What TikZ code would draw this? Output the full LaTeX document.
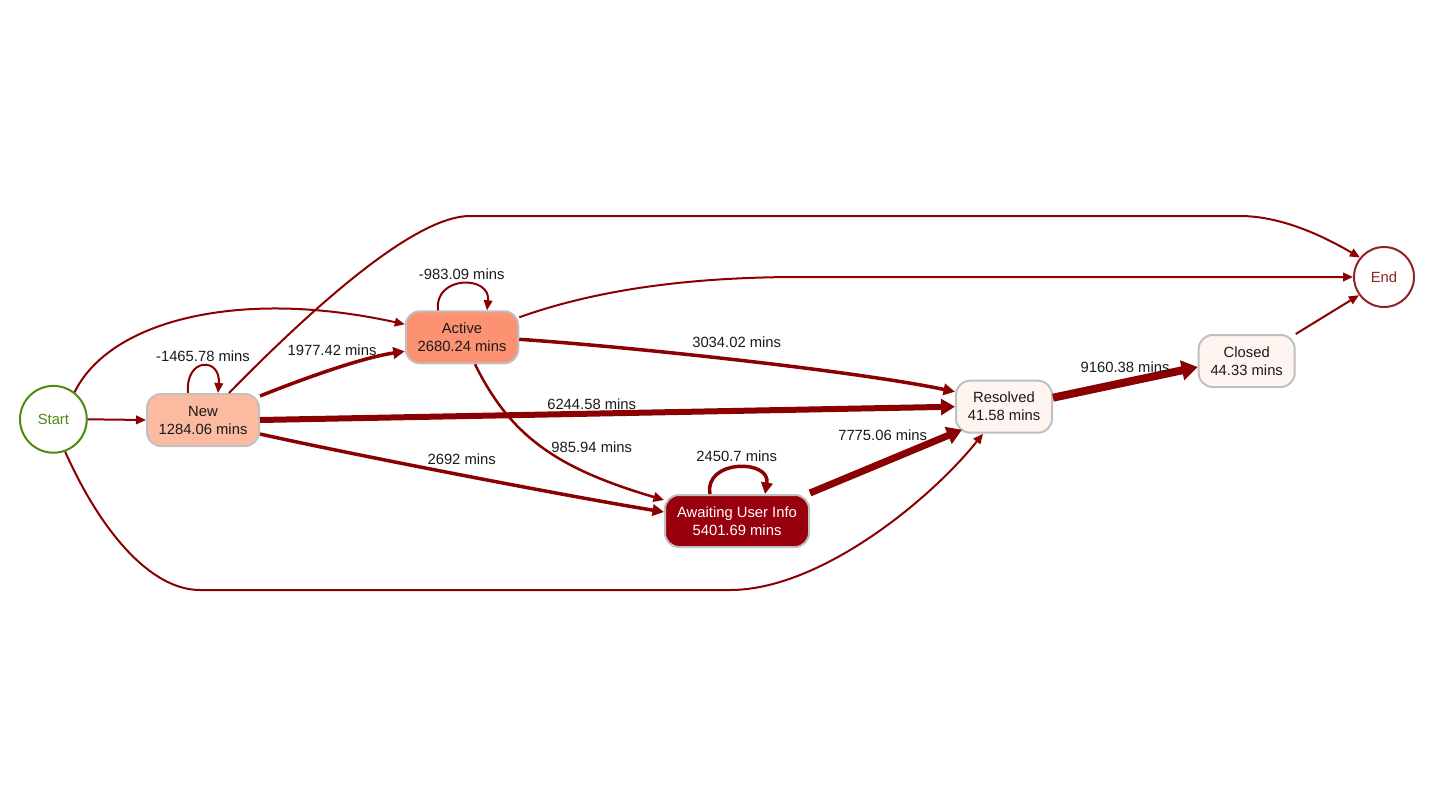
\documentclass[tikz,border=0pt]{standalone}
\usepackage{fontspec}
\setmainfont{Liberation Sans}
\usetikzlibrary{arrows.meta}
\definecolor{edgec}{HTML}{8B0000}
\definecolor{cnew}{HTML}{FCBBA1}
\definecolor{cactive}{HTML}{FC9272}
\definecolor{cawait}{HTML}{99000D}
\definecolor{clight}{HTML}{FFF5F0}
\definecolor{bordc}{HTML}{C0C0C0}
\definecolor{startc}{HTML}{4E8A0E}
\definecolor{endc}{HTML}{8E2424}
\definecolor{txtc}{HTML}{1A1A1A}
\tikzset{
  txt/.style={font=\fontsize{14.8pt}{18pt}\selectfont, text=txtc, align=center, inner sep=0pt},
  statebox/.style={txt, draw=bordc, line width=2pt, rounded corners=14pt, minimum height=52pt},
  term/.style={txt, circle, line width=2pt, inner sep=0pt},
  arr/.style={draw=edgec, line width=2pt, -{Triangle[length=8pt 1, width=5pt 1.8]}},
  lbl/.style={txt}
}
\begin{document}
\begin{tikzpicture}[x=1pt,y=-1pt]
\useasboundingbox[fill=white] (0,0) rectangle (1432,787);

% nodes
\node[term, draw=startc, text=startc, minimum size=66.8pt] (start) at (53.4,419.3) {Start};
\node[term, draw=endc, text=endc, minimum size=60pt] (end) at (1384,277) {End};
\node[statebox, fill=cnew, minimum width=112pt] (new) at (203,420) {New\\1284.06 mins};
\node[statebox, fill=cactive, minimum width=112.5pt] (active) at (462,337.3) {Active\\2680.24 mins};
\node[statebox, fill=cawait, text=white, minimum width=144pt] (await) at (737,521) {Awaiting User Info\\5401.69 mins};
\node[statebox, fill=clight, minimum width=96pt] (resolved) at (1004,406.7) {Resolved\\41.58 mins};
\node[statebox, fill=clight, minimum width=96pt] (closed) at (1246.7,361) {Closed\\44.33 mins};

% edges
\draw[arr] (start.east) -- (new.west);
\draw[arr] (start.52) .. controls (110,320) and (240,288) .. ([yshift=13pt]active.west);
\draw[arr] (start.-70) .. controls (100,530) and (150,590) .. (200,590) -- (730,590)
   .. controls (820,590) and (930,500) .. ([xshift=-21pt]resolved.south);
\draw[arr] ([xshift=26pt]new.north) .. controls (330,290) and (420,216) .. (470,216) -- (1240,216)
   .. controls (1285,216) and (1330,240) .. (end.141);
\draw[arr] ([xshift=-15pt]new.north) .. controls (185,357) and (221,357) .. ([xshift=15pt]new.north);
\draw[arr, line width=3.5pt] ([yshift=24pt]new.east) .. controls (300,380) and (360,358) .. ([yshift=-14pt]active.west);
\draw[arr, line width=6pt] (new.east) -- (resolved.west);
\draw[arr, line width=3.5pt] ([yshift=-14pt]new.east) .. controls (340,452) and (560,495) .. ([yshift=9pt]await.west);
\draw[arr] ([xshift=-24pt]active.north) .. controls (434,275) and (491,275) .. ([xshift=25pt]active.north);
\draw[arr] ([yshift=20pt]active.east) .. controls (590,292) and (680,277) .. (800,277) -- (end.west);
\draw[arr, line width=3.5pt] ([yshift=-2pt]active.east) .. controls (620,346) and (850,370) .. ([yshift=15pt]resolved.west);
\draw[arr, line width=2.5pt] ([xshift=13pt]active.south) .. controls (510,435) and (555,468) .. ([yshift=21pt]await.west);
\draw[arr, line width=3.5pt] ([xshift=-27pt]await.north) .. controls (704,459) and (771,459) .. ([xshift=28pt]await.north);
\draw[arr, line width=7pt] ([yshift=28pt]await.east) -- ([xshift=-42pt,yshift=-23pt]resolved.center);
\draw[arr, line width=8pt] ([yshift=9pt]resolved.east) -- ([yshift=-6pt]closed.west);
\draw[arr] (closed.north east) -- (end.-144);

% labels
\node[lbl] (l1) at (203,356) {-1465.78 mins};
\node[lbl] (l2) at (332,350) {1977.42 mins};
\node[lbl] (l3) at (591.7,404.3) {6244.58 mins};
\node[lbl] (l4) at (461.7,459.3) {2692 mins};
\node[lbl] (l5) at (461.7,274) {-983.09 mins};
\node[lbl] (l6) at (736.7,342.7) {3034.02 mins};
\node[lbl] (l7) at (591.7,447.7) {985.94 mins};
\node[lbl] (l8) at (736.7,456.7) {2450.7 mins};
\node[lbl] (l9) at (882.7,435.7) {7775.06 mins};
\node[lbl] (l10) at (1125,367) {9160.38 mins};
\end{tikzpicture}
\end{document}
